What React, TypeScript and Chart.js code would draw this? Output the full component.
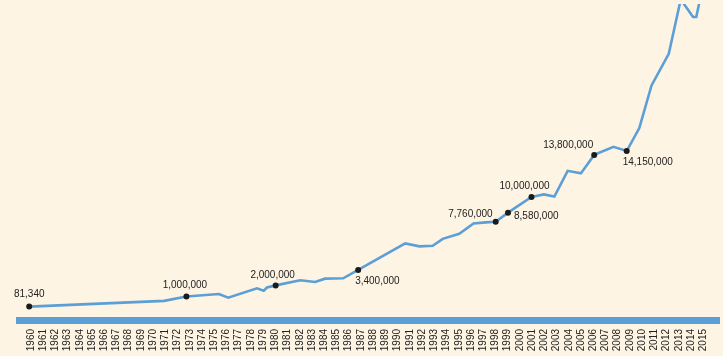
import React, { useEffect, useRef } from 'react';
import { Chart, registerables } from 'chart.js';

Chart.register(...registerables);

// ---- data ----
const lineYears = [
  1959.86, 1970.9, 1972.72, 1975.38, 1976.14, 1978.49, 1979.04, 1979.31, 1980.02,
  1982.03, 1983.25, 1984.06, 1985.55, 1986.77, 1990.62, 1991.79, 1992.87, 1993.69,
  1995.04, 1996.21, 1997.21, 1998.02, 1999.03, 2000.95, 2001.96, 2002.82, 2003.91,
  2004.99, 2006.08, 2007.66, 2008.74, 2009.77, 2010.77, 2012.18, 2013.16, 2014.17,
  2014.43, 2015.0,
];
const lineValues = [
  81340, 600000, 1000000, 1220000, 890000, 1730000, 1510000, 1810000, 2000000,
  2460000, 2310000, 2610000, 2640000, 3400000, 5800000, 5530000, 5580000, 6210000,
  6670000, 7600000, 7700000, 7760000, 8580000, 10000000, 10230000, 10030000, 12360000,
  12130000, 13800000, 14530000, 14150000, 16230000, 20080000, 22940000, 27860000, 26280000,
  26280000, 29200000,
];

const markerYears = [1959.86, 1972.72, 1980.02, 1986.77, 1998.02, 1999.03, 2000.95, 2006.08, 2008.74];
const markerValues = [81340, 1000000, 2000000, 3400000, 7760000, 8580000, 10000000, 13800000, 14150000];
const markerLabels = ['81,340', '1,000,000', '2,000,000', '3,400,000', '7,760,000', '8,580,000', '10,000,000', '13,800,000', '14,150,000'];

const tickYears = [
  1960, 1961, 1962, 1963, 1964, 1965, 1966, 1967, 1968, 1969,
  1970, 1971, 1972, 1973, 1974, 1975, 1976, 1977, 1978, 1979,
  1980, 1981, 1982, 1983, 1984, 1985, 1986, 1987, 1988, 1989,
  1990, 1991, 1992, 1993, 1994, 1995, 1996, 1997, 1998, 1999,
  2000, 2001, 2002, 2003, 2004, 2005, 2006, 2007, 2008, 2009,
  2010, 2011, 2012, 2013, 2014, 2015,
];

// ---- label placement (style) ----
const labelPlacement: { align: CanvasTextAlign; dx: number; dy: number }[] = [
  { align: 'center', dx: 0, dy: -12 },
  { align: 'center', dx: -1.5, dy: -11 },
  { align: 'center', dx: -3, dy: -10 },
  { align: 'left', dx: -3, dy: 11 },
  { align: 'right', dx: -3, dy: -7 },
  { align: 'left', dx: 6, dy: 3.5 },
  { align: 'center', dx: -7, dy: -11 },
  { align: 'right', dx: -1, dy: -9.5 },
  { align: 'left', dx: -4, dy: 11.5 },
];

const FONT = '"Liberation Sans", Arial, Helvetica, sans-serif';
const BLUE = '#5b9fd6';
const BG = '#fdf4e3';

const labelPlugin = {
  id: 'markerLabels',
  afterDatasetsDraw(chart: any) {
    const { ctx } = chart;
    const xs = chart.scales.x;
    const ys = chart.scales.y;
    ctx.save();
    ctx.font = `10px ${FONT}`;
    ctx.fillStyle = '#222222';
    ctx.textBaseline = 'middle';
    markerLabels.forEach((t, i) => {
      const p = labelPlacement[i];
      ctx.textAlign = p.align;
      ctx.fillText(
        t,
        xs.getPixelForValue(markerYears[i]) + p.dx,
        ys.getPixelForValue(markerValues[i]) + p.dy
      );
    });
    ctx.restore();
  },
};

export default function App() {
  const ref = useRef<HTMLCanvasElement>(null);

  useEffect(() => {
    if (!ref.current) return;
    const chart = new Chart(ref.current, {
      type: 'line',
      data: {
        datasets: [
          {
            type: 'scatter',
            data: markerYears.map((x, i) => ({ x, y: markerValues[i] })),
            pointRadius: 3,
            pointBackgroundColor: '#1a1a1a',
            pointBorderColor: '#1a1a1a',
            pointBorderWidth: 0,
            showLine: false,
            order: 0,
          } as any,
          {
            data: lineYears.map((x, i) => ({ x, y: lineValues[i] })),
            borderColor: BLUE,
            borderWidth: 2.6,
            pointRadius: 0,
            tension: 0,
            fill: false,
            order: 1,
          },
        ],
      },
      options: {
        responsive: false,
        animation: false,
        events: [],
        layout: { padding: { left: 19.5, right: 0, top: 0, bottom: 0 } },
        plugins: { legend: { display: false }, tooltip: { enabled: false } },
        scales: {
          x: {
            type: 'linear',
            min: 1959.065,
            max: 2016.29,
            grid: { display: false, drawTicks: false },
            border: { display: true, color: BLUE, width: 7 },
            afterBuildTicks: (axis: any) => {
              axis.ticks = tickYears.map((v) => ({ value: v }));
            },
            afterFit: (axis: any) => {
              axis.height = 36;
              axis.paddingLeft = 0;
              axis.paddingRight = 0;
            },
            ticks: {
              autoSkip: false,
              minRotation: 90,
              maxRotation: 90,
              padding: 9,
              color: '#222222',
              font: { size: 10, family: FONT },
              callback: (v: any) => String(v),
            },
          },
          y: {
            type: 'linear',
            display: false,
            min: -1130000,
            max: 27450000,
          },
        },
      },
      plugins: [labelPlugin],
    });
    return () => chart.destroy();
  }, []);

  return (
    <div style={{ position: 'fixed', left: 0, top: 0, width: 723, height: 356, background: BG }}>
      <canvas ref={ref} width={723} height={356} style={{ display: 'block' }} />
    </div>
  );
}
